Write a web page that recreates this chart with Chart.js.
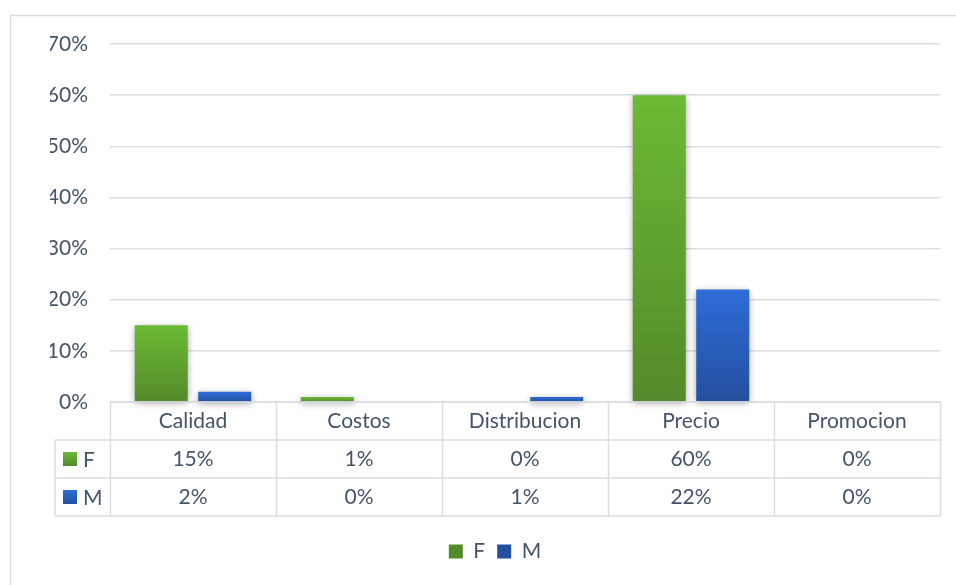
<!DOCTYPE html>
<html>
<head>
<meta charset="utf-8">
<script src="https://cdn.jsdelivr.net/npm/chart.js@4/dist/chart.umd.min.js"></script>
<style>
  html, body { margin: 0; padding: 0; background: #fff; }
  #caja { width: 956px; height: 585px; }
</style>
</head>
<body>
<div id="caja"><canvas id="grafica"></canvas></div>
<script>
// Datos de la gráfica (porcentajes)
const categorias = ['Calidad', 'Costos', 'Distribucion', 'Precio', 'Promocion'];
const series = ['F', 'M'];
const valoresF = [15, 1, 0, 60, 0];
const valoresM = [2, 0, 1, 22, 0];
const marcasY = [0, 10, 20, 30, 40, 50, 60, 70];

// Colores: arriba, abajo, medio
const coloresF = ['#6cba34', '#538a2a', '#60a22f'];
const coloresM = ['#2e6cd8', '#24509e', '#295ebb'];
const colorTexto = '#44546a';
const colorLinea = '#d9dde3';
const fuente = 'Lato, "Open Sans", sans-serif';
const tamFuente = 21;

// Degradado vertical por barra (claro arriba, oscuro abajo)
function degradado(colores) {
    return (ctx) => {
        const chart = ctx.chart;
        if (!chart.chartArea || ctx.type !== 'data') return colores[2];
        const y = chart.scales.y;
        const arriba = y.getPixelForValue(ctx.raw);
        const base = y.getPixelForValue(0);
        if (base - arriba < 1) return colores[0];
        const g = chart.ctx.createLinearGradient(0, arriba, 0, base);
        g.addColorStop(0, colores[0]);
        g.addColorStop(1, colores[1]);
        return g;
    };
}

// Marco exterior
const marco = {
    id: 'marco',
    beforeDraw(chart) {
        const c = chart.ctx;
        c.save();
        c.strokeStyle = colorLinea;
        c.lineWidth = 1.5;
        c.strokeRect(10.5, 15.5, chart.width + 10, chart.height + 10);
        c.restore();
    }
};

// Sombra suave bajo las barras
const sombra = {
    id: 'sombra',
    beforeDatasetsDraw(chart) {
        const c = chart.ctx;
        c.save();
        c.shadowColor = 'rgba(0, 0, 0, 0.4)';
        c.shadowBlur = 7;
        c.shadowOffsetY = 2;
    },
    afterDatasetsDraw(chart) {
        chart.ctx.restore();
    }
};

// Tabla de datos debajo del eje X
const tabla = {
    id: 'tabla',
    afterDraw(chart) {
        const c = chart.ctx;
        const x = chart.scales.x;
        const y0 = chart.chartArea.bottom;
        const ancho = (x.right - x.left) / categorias.length;
        const alto = 38;
        const izq = x.left - 55;
        const filas = [valoresF, valoresM];
        const colores = [coloresF, coloresM];

        c.save();
        c.strokeStyle = colorLinea;
        c.lineWidth = 1.5;
        c.beginPath();
        c.moveTo(x.left, y0);
        c.lineTo(x.right, y0);
        for (let f = 1; f <= 3; f++) {
            c.moveTo(izq, y0 + f * alto);
            c.lineTo(x.right, y0 + f * alto);
        }
        c.moveTo(izq, y0 + alto);
        c.lineTo(izq, y0 + 3 * alto);
        for (let k = 0; k <= categorias.length; k++) {
            const px = Math.round(x.left + k * ancho) + 0.5;
            c.moveTo(px, y0);
            c.lineTo(px, y0 + 3 * alto);
        }
        c.stroke();

        c.fillStyle = colorTexto;
        c.font = tamFuente + 'px ' + fuente;
        c.textAlign = 'center';
        c.textBaseline = 'middle';
        categorias.forEach((cat, i) => {
            const cx = x.getPixelForValue(i);
            c.fillText(cat, cx, y0 + alto / 2);
            filas.forEach((fila, f) => {
                c.fillText(fila[i] + '%', cx, y0 + alto * (f + 1.5));
            });
        });

        // Columna de series con su muestra de color
        series.forEach((nombre, f) => {
            const cy = y0 + alto * (f + 1.5);
            const g = c.createLinearGradient(0, cy - 7, 0, cy + 7);
            g.addColorStop(0, colores[f][0]);
            g.addColorStop(1, colores[f][1]);
            c.fillStyle = g;
            c.fillRect(izq + 8, cy - 7, 14, 14);
            c.fillStyle = colorTexto;
            c.textAlign = 'left';
            c.fillText(nombre, izq + 28, cy + 1);
        });
        c.restore();
    }
};

const grafica = new Chart(document.getElementById('grafica'), {
    type: 'bar',
    data: {
        labels: categorias,
        datasets: [
            {
                label: series[0],
                data: valoresF,
                backgroundColor: degradado(coloresF),
                categoryPercentage: 0.765,
                barPercentage: 0.835,
                clip: false,
            },
            {
                label: series[1],
                data: valoresM,
                backgroundColor: degradado(coloresM),
                categoryPercentage: 0.765,
                barPercentage: 0.835,
                clip: false,
            },
        ],
    },
    options: {
        responsive: true,
        maintainAspectRatio: false,
        animation: false,
        layout: {
            padding: { left: 50, right: 16, top: 44, bottom: 13 },
        },
        plugins: {
            tooltip: { enabled: false },
            legend: {
                position: 'bottom',
                labels: {
                    boxWidth: 14,
                    boxHeight: 14,
                    padding: 12,
                    color: colorTexto,
                    font: { family: fuente, size: tamFuente },
                },
            },
        },
        scales: {
            x: {
                grid: { display: false },
                border: { display: false },
                ticks: { display: false },
                afterFit(escala) { escala.height = 127; },
            },
            y: {
                min: marcasY[0],
                max: marcasY[marcasY.length - 1],
                grid: { color: colorLinea, lineWidth: 1.5, drawTicks: false },
                border: { display: false },
                ticks: {
                    stepSize: marcasY[1] - marcasY[0],
                    padding: 22,
                    color: colorTexto,
                    font: { family: fuente, size: tamFuente },
                    callback: (v) => v + '%',
                },
                afterFit(escala) { escala.width = 60; },
            },
        },
    },
    plugins: [marco, sombra, tabla],
});
</script>
</body>
</html>
